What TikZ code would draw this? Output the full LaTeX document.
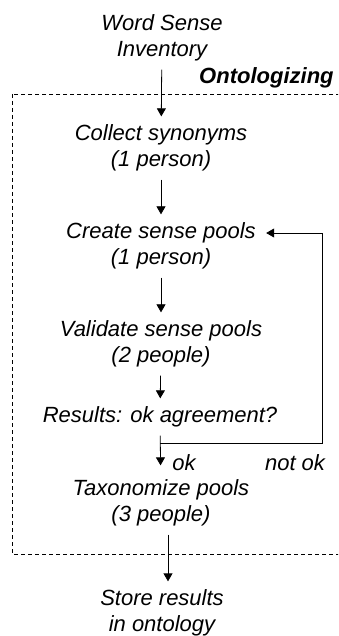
\documentclass[tikz,border=0pt]{standalone}
\usepackage{fontspec}
\setmainfont{Liberation Sans}
\usetikzlibrary{arrows.meta}

\begin{document}
\begin{tikzpicture}[x=0.5pt,y=-0.5pt,
  txt/.style={align=center,inner xsep=5pt,inner ysep=4pt,font=\fontsize{11}{13}\selectfont\itshape},
  box/.style={dash pattern=on 2pt off 1.5pt},
  >={Triangle[length=4pt,width=4.5pt]}]
\clip (0,0) rectangle (338,636);
\node[txt] (wsi) at (162,38) {Word Sense\\Inventory};
\node[txt,anchor=east,inner xsep=0pt,font=\fontsize{11}{13}\selectfont\bfseries\itshape] (onto) at (334,78) {Ontologizing};
\draw[box] (12,94) rectangle (360,554);
\node[txt] (collect) at (161,148) {Collect synonyms\\(1 person)};
\node[txt] (create) at (161,246) {Create sense pools\\(1 person)};
\node[txt] (validate) at (161,344) {Validate sense pools\\(2 people)};
\node[txt] (results) at (160,417) {Results: ok agreement?};
\node[txt] (taxo) at (161,503) {Taxonomize pools\\(3 people)};
\node[txt] (store) at (162,613) {Store results\\in ontology};
\foreach \a/\b in {wsi/collect,collect/create,create/validate,validate/results}
 \draw[black, ->] (\a) -- (\b);
\draw[black, ->] ([xshift=3.5pt]taxo.south) -- ([xshift=3pt]store.north);
\draw[black, ->, shorten >=3pt] (results) -- (taxo);
\node[txt,inner sep=0pt] (ok) at (184,463) {ok};
\coordinate (split) at (160,443);
\coordinate (turn) at (322,443);
\draw[black, ->] (split) -- (turn) |- (create.east |- 0,233);
\node[txt,inner sep=0pt] (notok) at (295,463) {not ok};
\end{tikzpicture}
\end{document}
